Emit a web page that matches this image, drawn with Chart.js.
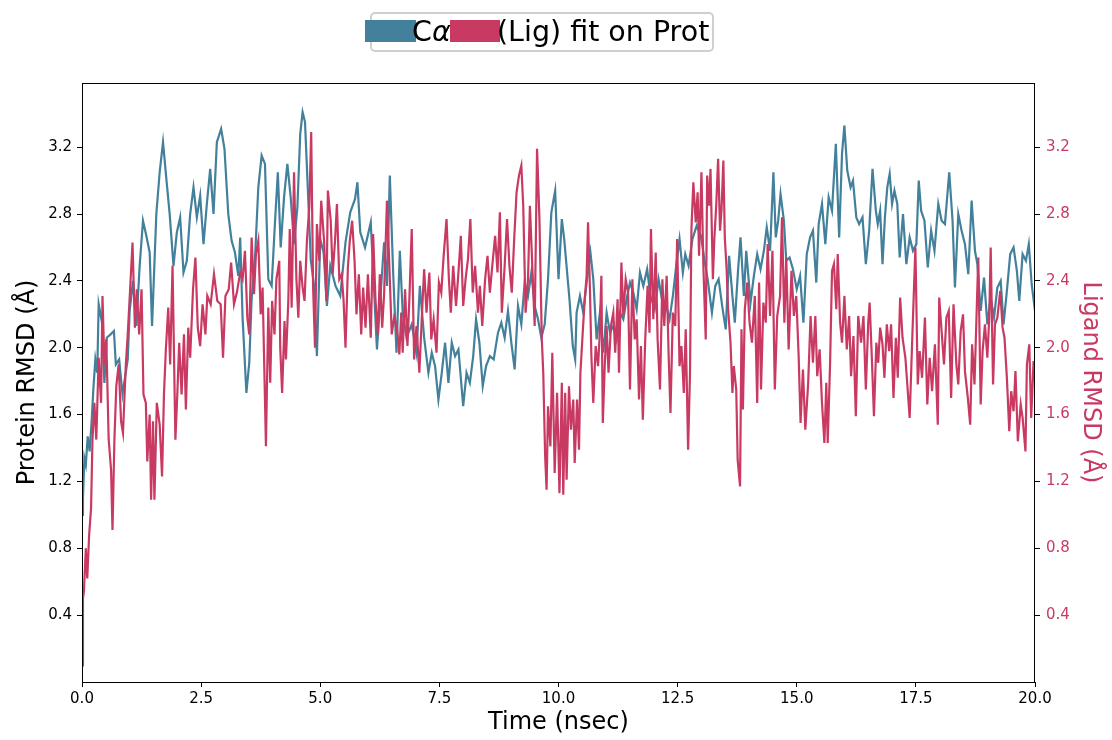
<!DOCTYPE html>
<html>
<head>
<meta charset="utf-8">
<script src="https://cdn.jsdelivr.net/npm/chart.js"></script>
<style>
  html, body { margin: 0; padding: 0; background: #fff; }
  canvas { display: block; }
</style>
</head>
<body>
<canvas id="graphique-rmsd" width="1112" height="740"></canvas>
<script>
// Temps (nsec) et RMSD de la proteine (C alpha)
const tempsProt = [
  0, 0.02, 0.05, 0.08, 0.12, 0.16, 0.2, 0.24, 0.28, 0.32,
  0.35, 0.42, 0.47, 0.52, 0.6, 0.67, 0.71, 0.78, 0.85, 0.96,
  1.0, 1.07, 1.14, 1.21, 1.28, 1.35, 1.42, 1.47, 1.56, 1.63,
  1.7, 1.78, 1.84, 1.92, 1.99, 2.06, 2.13, 2.2, 2.27, 2.34,
  2.41, 2.48, 2.55, 2.62, 2.69, 2.76, 2.83, 2.92, 2.99, 3.07,
  3.14, 3.21, 3.28, 3.32, 3.37, 3.45, 3.51, 3.56, 3.63, 3.7,
  3.77, 3.84, 3.91, 3.98, 4.05, 4.11, 4.17, 4.24, 4.31, 4.38,
  4.45, 4.52, 4.58, 4.63, 4.68, 4.75, 4.8, 4.87, 4.93, 5.0,
  5.07, 5.14, 5.21, 5.32, 5.42, 5.53, 5.63, 5.73, 5.78, 5.84,
  5.94, 6.06, 6.19, 6.26, 6.34, 6.4, 6.46, 6.53, 6.6, 6.67,
  6.73, 6.81, 6.92, 7.02, 7.09, 7.18, 7.27, 7.34, 7.41, 7.48,
  7.55, 7.62, 7.69, 7.76, 7.83, 7.9, 8.0, 8.07, 8.14, 8.21,
  8.27, 8.34, 8.41, 8.48, 8.56, 8.64, 8.73, 8.8, 8.87, 8.94,
  9.01, 9.08, 9.15, 9.22, 9.29, 9.36, 9.43, 9.5, 9.57, 9.64,
  9.71, 9.78, 9.85, 9.93, 10.0, 10.07, 10.12, 10.23, 10.3, 10.35,
  10.38, 10.45, 10.52, 10.59, 10.67, 10.73, 10.8, 10.87, 10.94, 11.01,
  11.08, 11.15, 11.22, 11.29, 11.36, 11.43, 11.5, 11.57, 11.64, 11.71,
  11.78, 11.86, 11.93, 12.02, 12.1, 12.17, 12.26, 12.33, 12.4, 12.47,
  12.54, 12.61, 12.66, 12.73, 12.81, 12.9, 12.99, 13.06, 13.13, 13.22,
  13.29, 13.36, 13.44, 13.51, 13.58, 13.65, 13.7, 13.77, 13.82, 13.89,
  13.94, 14.03, 14.1, 14.17, 14.24, 14.31, 14.37, 14.44, 14.51, 14.56,
  14.61, 14.66, 14.73, 14.78, 14.85, 14.92, 15.0, 15.07, 15.14, 15.21,
  15.28, 15.34, 15.41, 15.46, 15.53, 15.6, 15.67, 15.74, 15.82, 15.89,
  15.95, 16.0, 16.06, 16.13, 16.18, 16.25, 16.31, 16.38, 16.45, 16.52,
  16.59, 16.66, 16.7, 16.75, 16.8, 16.85, 16.9, 16.95, 17.0, 17.05,
  17.11, 17.16, 17.23, 17.3, 17.37, 17.44, 17.51, 17.56, 17.61, 17.68,
  17.75, 17.82, 17.89, 17.97, 18.04, 18.11, 18.2, 18.27, 18.32, 18.39,
  18.46, 18.53, 18.6, 18.67, 18.74, 18.79, 18.86, 18.93, 19.0, 19.07,
  19.14, 19.21, 19.28, 19.34, 19.41, 19.48, 19.55, 19.62, 19.67, 19.74,
  19.81, 19.87, 19.93, 20.0
];
const rmsdProt = [
  1.00, 1.10, 1.34, 1.30, 1.47, 1.38, 1.55, 1.76, 1.93, 1.85,
  2.26, 2.15, 1.79, 2.06, 2.08, 2.10, 1.90, 1.93, 1.72, 1.93,
  2.22, 2.40, 2.13, 2.49, 2.76, 2.67, 2.57, 2.13, 2.80, 3.05,
  3.23, 2.98, 2.80, 2.49, 2.69, 2.78, 2.45, 2.52, 2.80, 2.96,
  2.78, 2.91, 2.62, 2.86, 3.07, 2.80, 3.23, 3.31, 3.19, 2.80,
  2.64, 2.57, 2.43, 2.66, 2.18, 1.73, 1.91, 2.29, 2.53, 2.96,
  3.15, 3.10, 2.41, 2.37, 2.75, 3.05, 2.60, 2.90, 3.10, 2.90,
  2.62, 2.84, 3.28, 3.41, 3.35, 2.88, 2.53, 2.37, 1.95, 2.65,
  2.57, 2.25, 2.49, 2.37, 2.31, 2.63, 2.81, 2.89, 2.99, 2.69,
  2.60, 2.75, 1.99, 2.29, 2.63, 2.37, 3.03, 2.45, 1.97, 2.58,
  2.21, 2.06, 2.14, 1.97, 2.37, 2.06, 1.85, 1.97, 1.89, 1.69,
  1.85, 2.03, 1.79, 2.03, 1.95, 1.99, 1.65, 1.85, 1.79, 1.95,
  2.17, 2.03, 1.77, 1.89, 1.95, 1.93, 2.09, 2.15, 2.06, 2.22,
  2.03, 1.87, 2.25, 2.14, 2.39, 2.31, 2.45, 2.25, 2.17, 2.06,
  2.14, 2.41, 2.81, 2.94, 2.41, 2.77, 2.65, 2.29, 2.01, 1.93,
  2.21, 2.31, 2.21, 2.39, 2.57, 2.41, 2.05, 2.21, 1.97, 2.21,
  2.09, 2.13, 2.05, 2.21, 2.17, 2.29, 2.39, 2.33, 2.23, 2.45,
  2.37, 2.47, 2.31, 2.23, 2.41, 2.29, 2.25, 2.17, 2.31, 2.49,
  2.65, 2.45, 2.56, 2.49, 2.65, 2.73, 2.67, 2.53, 2.41, 2.21,
  2.37, 2.41, 2.24, 2.11, 2.55, 2.31, 2.15, 2.47, 2.66, 2.31,
  2.58, 2.27, 2.43, 2.56, 2.47, 2.58, 2.72, 2.58, 3.05, 2.66,
  2.76, 2.92, 2.76, 2.52, 2.54, 2.47, 2.35, 2.43, 2.15, 2.56,
  2.66, 2.70, 2.39, 2.74, 2.86, 2.62, 2.90, 2.82, 3.22, 2.66,
  3.16, 3.33, 3.06, 2.96, 3.00, 2.78, 2.74, 2.78, 2.50, 2.70,
  3.07, 2.82, 2.74, 2.82, 2.50, 2.78, 2.96, 3.04, 2.86, 2.94,
  2.86, 2.54, 2.80, 2.50, 2.66, 2.58, 2.62, 3.00, 2.82, 2.76,
  2.48, 2.70, 2.58, 2.86, 2.76, 2.74, 3.05, 2.76, 2.36, 2.80,
  2.70, 2.62, 2.44, 2.88, 2.58, 2.50, 2.22, 2.42, 2.14, 2.30,
  2.18, 2.36, 2.40, 2.14, 2.34, 2.56, 2.60, 2.46, 2.28, 2.56,
  2.52, 2.62, 2.38, 2.22
];

// Temps (nsec) et RMSD du ligand
const tempsLig = [
  0, 0.02, 0.04, 0.08, 0.11, 0.15, 0.19, 0.22, 0.26, 0.3,
  0.35, 0.4, 0.43, 0.47, 0.51, 0.56, 0.61, 0.64, 0.68, 0.72,
  0.77, 0.82, 0.86, 0.92, 0.96, 1.01, 1.06, 1.11, 1.15, 1.2,
  1.25, 1.29, 1.34, 1.37, 1.42, 1.45, 1.49, 1.52, 1.57, 1.63,
  1.68, 1.72, 1.76, 1.81, 1.85, 1.9, 1.96, 2.0, 2.04, 2.09,
  2.14, 2.18, 2.23, 2.27, 2.33, 2.38, 2.43, 2.48, 2.53, 2.59,
  2.63, 2.7, 2.77, 2.84, 2.91, 2.96, 3.01, 3.08, 3.13, 3.19,
  3.25, 3.32, 3.37, 3.42, 3.47, 3.51, 3.56, 3.61, 3.65, 3.7,
  3.75, 3.79, 3.84, 3.86, 3.91, 3.95, 3.99, 4.04, 4.08, 4.14,
  4.16, 4.2, 4.25, 4.28, 4.33, 4.36, 4.4, 4.45, 4.5, 4.54,
  4.58, 4.63, 4.67, 4.72, 4.77, 4.81, 4.85, 4.89, 4.93, 4.98,
  5.02, 5.08, 5.13, 5.16, 5.22, 5.26, 5.31, 5.35, 5.4, 5.45,
  5.49, 5.53, 5.58, 5.62, 5.67, 5.72, 5.76, 5.81, 5.86, 5.9,
  5.95, 6.0, 6.06, 6.11, 6.16, 6.21, 6.25, 6.3, 6.34, 6.4,
  6.46, 6.5, 6.55, 6.61, 6.66, 6.7, 6.73, 6.78, 6.83, 6.87,
  6.92, 6.97, 7.02, 7.08, 7.13, 7.18, 7.23, 7.29, 7.33, 7.38,
  7.44, 7.49, 7.54, 7.59, 7.65, 7.7, 7.74, 7.79, 7.85, 7.9,
  7.95, 8.0, 8.05, 8.1, 8.15, 8.2, 8.25, 8.31, 8.35, 8.4,
  8.46, 8.51, 8.56, 8.61, 8.67, 8.72, 8.77, 8.81, 8.87, 8.92,
  8.97, 9.02, 9.07, 9.12, 9.17, 9.22, 9.26, 9.31, 9.36, 9.4,
  9.45, 9.5, 9.55, 9.6, 9.65, 9.68, 9.72, 9.75, 9.78, 9.83,
  9.87, 9.92, 9.97, 10.02, 10.07, 10.1, 10.14, 10.17, 10.22, 10.26,
  10.31, 10.34, 10.39, 10.43, 10.46, 10.5, 10.55, 10.59, 10.62, 10.66,
  10.69, 10.73, 10.78, 10.83, 10.86, 10.9, 10.93, 10.97, 11.01, 11.05,
  11.1, 11.15, 11.19, 11.24, 11.27, 11.32, 11.36, 11.41, 11.46, 11.5,
  11.55, 11.6, 11.64, 11.69, 11.73, 11.77, 11.82, 11.87, 11.91, 11.94,
  11.99, 12.04, 12.08, 12.13, 12.18, 12.22, 12.27, 12.31, 12.35, 12.4,
  12.45, 12.49, 12.54, 12.58, 12.63, 12.67, 12.72, 12.76, 12.79, 12.83,
  12.88, 12.92, 12.95, 13.0, 13.04, 13.09, 13.12, 13.16, 13.19, 13.24,
  13.27, 13.31, 13.35, 13.39, 13.42, 13.46, 13.49, 13.53, 13.56, 13.61,
  13.65, 13.68, 13.73, 13.76, 13.81, 13.84, 13.87, 13.91, 13.96, 14.01,
  14.06, 14.12, 14.17, 14.21, 14.25, 14.3, 14.35, 14.39, 14.44, 14.49,
  14.54, 14.59, 14.65, 14.69, 14.74, 14.78, 14.83, 14.89, 14.94, 14.99,
  15.04, 15.08, 15.13, 15.18, 15.24, 15.29, 15.34, 15.39, 15.43, 15.48,
  15.53, 15.58, 15.62, 15.65, 15.7, 15.74, 15.78, 15.83, 15.86, 15.91,
  15.95, 16.0, 16.05, 16.1, 16.14, 16.19, 16.24, 16.29, 16.35, 16.4,
  16.45, 16.5, 16.53, 16.58, 16.62, 16.67, 16.71, 16.75, 16.8, 16.84,
  16.89, 16.94, 16.98, 17.03, 17.08, 17.12, 17.17, 17.22, 17.28, 17.32,
  17.37, 17.42, 17.49, 17.54, 17.58, 17.63, 17.69, 17.74, 17.79, 17.84,
  17.9, 17.96, 17.99, 18.04, 18.09, 18.14, 18.19, 18.24, 18.29, 18.35,
  18.39, 18.44, 18.49, 18.53, 18.59, 18.64, 18.68, 18.73, 18.78, 18.81,
  18.86, 18.9, 18.95, 19.0, 19.04, 19.07, 19.12, 19.16, 19.21, 19.27,
  19.32, 19.36, 19.41, 19.46, 19.5, 19.55, 19.59, 19.64, 19.7, 19.74,
  19.8, 19.83, 19.88, 19.92, 19.97, 20.0
];
const rmsdLig = [
  0.10, 0.50, 0.54, 0.80, 0.62, 0.88, 1.04, 1.45, 1.67, 1.45,
  1.94, 1.67, 2.31, 1.90, 2.05, 1.45, 1.27, 0.91, 1.45, 1.77,
  1.90, 1.56, 1.49, 1.90, 2.08, 2.35, 2.63, 2.12, 2.35, 2.08,
  2.35, 1.72, 1.67, 1.32, 1.60, 1.09, 1.56, 1.09, 1.67, 1.54,
  1.23, 1.72, 1.99, 2.24, 1.90, 2.49, 1.45, 1.72, 2.03, 1.72,
  2.08, 1.63, 2.12, 1.94, 2.35, 2.54, 2.12, 2.01, 2.26, 2.08,
  2.31, 2.26, 2.44, 2.28, 2.26, 1.94, 2.31, 2.35, 2.51, 2.26,
  2.33, 2.45, 2.41, 2.58, 2.18, 2.08, 2.66, 2.32, 2.56, 2.64,
  2.20, 2.36, 1.69, 1.41, 2.24, 1.79, 2.28, 2.08, 2.41, 2.52,
  2.00, 1.73, 2.16, 1.93, 2.28, 2.71, 2.24, 3.05, 2.41, 2.18,
  2.52, 2.36, 2.28, 2.64, 2.84, 3.29, 2.36, 2.00, 2.74, 2.52,
  2.88, 2.64, 2.28, 2.94, 2.76, 2.44, 2.64, 2.86, 2.41, 2.44,
  2.28, 2.00, 2.48, 2.64, 2.76, 2.52, 2.20, 2.44, 2.08, 2.36,
  2.12, 2.44, 2.06, 2.68, 2.28, 2.08, 2.44, 2.12, 2.32, 2.88,
  2.41, 2.08, 2.18, 2.12, 1.96, 2.21, 1.97, 2.35, 2.01, 2.29,
  2.71, 1.93, 2.13, 1.85, 2.17, 2.47, 2.21, 2.45, 2.05, 2.17,
  1.97, 2.39, 2.33, 2.55, 2.77, 2.41, 2.21, 2.49, 2.25, 2.45,
  2.67, 2.25, 2.41, 2.53, 2.77, 2.33, 2.49, 2.21, 2.37, 2.13,
  2.41, 2.55, 2.33, 2.49, 2.67, 2.45, 2.81, 2.21, 2.49, 2.77,
  2.49, 2.33, 2.65, 2.93, 3.03, 3.09, 2.85, 2.21, 2.41, 2.85,
  2.49, 2.13, 3.19, 2.77, 2.05, 1.85, 1.35, 1.15, 1.65, 1.41,
  1.97, 1.25, 1.73, 1.13, 1.79, 1.12, 1.73, 1.21, 1.77, 1.51,
  1.69, 1.31, 1.69, 1.39, 1.85, 2.05, 2.29, 2.43, 2.75, 2.35,
  1.95, 1.67, 2.01, 1.89, 2.05, 2.43, 1.55, 1.89, 2.13, 1.85,
  2.13, 2.21, 1.97, 2.29, 1.85, 2.51, 2.19, 2.41, 2.33, 1.75,
  2.41, 2.05, 2.17, 1.69, 2.01, 1.57, 2.05, 2.37, 2.09, 2.71,
  2.17, 2.57, 2.05, 1.75, 2.41, 2.13, 2.43, 1.97, 1.61, 2.21,
  2.13, 2.65, 1.89, 2.01, 1.73, 2.11, 1.39, 1.85, 2.71, 2.99,
  2.75, 2.93, 2.55, 3.05, 2.49, 2.05, 3.03, 2.85, 3.07, 2.41,
  2.65, 2.85, 3.13, 2.70, 2.82, 3.12, 2.66, 2.46, 2.23, 2.03,
  1.73, 1.89, 1.75, 1.33, 1.17, 2.11, 1.63, 2.23, 2.39, 2.15,
  2.03, 2.31, 1.67, 2.39, 1.75, 2.27, 2.15, 2.62, 2.19, 2.58,
  1.75, 2.19, 2.31, 2.78, 2.15, 2.54, 1.99, 2.46, 2.19, 2.31,
  1.95, 1.55, 1.87, 1.51, 1.79, 2.19, 1.91, 2.19, 1.83, 1.99,
  1.67, 1.43, 1.79, 1.43, 1.91, 2.46, 2.50, 2.23, 2.56, 2.15,
  2.03, 2.31, 1.99, 2.19, 1.83, 2.07, 1.59, 2.19, 2.03, 2.19,
  1.75, 2.15, 2.27, 1.91, 1.59, 2.03, 1.91, 2.12, 2.02, 1.82,
  2.14, 1.98, 2.14, 1.70, 2.06, 1.82, 2.30, 2.06, 1.94, 1.78,
  1.58, 2.02, 2.60, 1.78, 1.98, 1.82, 2.18, 1.66, 1.94, 1.74,
  2.02, 1.54, 2.30, 2.10, 1.90, 2.18, 2.22, 1.70, 2.26, 1.90,
  1.78, 2.10, 2.20, 1.86, 1.70, 1.54, 2.02, 1.78, 2.26, 2.54,
  1.66, 1.98, 2.14, 1.94, 2.18, 2.60, 1.78, 2.14, 2.18, 2.34,
  2.12, 2.06, 1.82, 1.50, 1.74, 1.62, 1.86, 1.44, 1.66, 1.58,
  1.38, 1.90, 2.02, 1.58, 1.92, 1.80
];

// Graduations des axes et noms des series
const ticksX = [0, 2.5, 5, 7.5, 10, 12.5, 15, 17.5, 20];
const ticksY = [0.4, 0.8, 1.2, 1.6, 2.0, 2.4, 2.8, 3.2];
const nomsSeries = ["Cα", "(Lig) fit on Prot"];

// Couleurs et police
const couleurProt = "rgb(67, 128, 155)";
const couleurLig = "rgb(200, 58, 98)";
const police = "'DejaVu Sans', sans-serif";

// Points {x, y} construits depuis les tableaux
const pointsProt = tempsProt.map((t, i) => ({ x: t, y: rmsdProt[i] }));
const pointsLig = tempsLig.map((t, i) => ({ x: t, y: rmsdLig[i] }));

// Cadre noir autour de la zone du graphique
const pluginCadre = {
  id: "cadre",
  afterDraw(chart) {
    const { ctx, chartArea } = chart;
    ctx.save();
    ctx.strokeStyle = "#000";
    ctx.lineWidth = 1;
    ctx.strokeRect(chartArea.left + 0.5, chartArea.top + 0.5,
      chartArea.right - chartArea.left - 1, chartArea.bottom - chartArea.top);
    ctx.restore();
  }
};

// Legende en haut, dessinee a la main (facon matplotlib)
const pluginLegende = {
  id: "legende",
  afterDraw(chart) {
    const ctx = chart.ctx;
    ctx.save();
    // Cadre arrondi gris
    ctx.fillStyle = "#fff";
    ctx.strokeStyle = "#cfcfcf";
    ctx.lineWidth = 2;
    ctx.beginPath();
    ctx.roundRect(371, 13, 342, 38, 4);
    ctx.fill();
    ctx.stroke();
    // Carres de couleur
    ctx.fillStyle = couleurProt;
    ctx.fillRect(365, 20, 51, 22);
    ctx.fillStyle = couleurLig;
    ctx.fillRect(450, 20, 50, 22);
    // Textes
    ctx.fillStyle = "#000";
    ctx.textBaseline = "alphabetic";
    ctx.font = "28.5px " + police;
    ctx.fillText(nomsSeries[0].charAt(0), 412, 41);
    const largeurC = ctx.measureText(nomsSeries[0].charAt(0)).width;
    ctx.font = "italic 28.5px " + police;
    ctx.fillText(nomsSeries[0].slice(1), 412 + largeurC, 41);
    ctx.font = "28.5px " + police;
    ctx.fillText(nomsSeries[1], 497, 41);
    ctx.restore();
  }
};

// Options communes des graduations
const grilleTicks = {
  display: true,
  drawOnChartArea: false,
  drawTicks: true,
  tickLength: 5,
  color: "#000",
  lineWidth: 1
};

const config = {
  type: "line",
  data: {
    datasets: [
      {
        label: nomsSeries[0],
        data: pointsProt,
        borderColor: couleurProt,
        borderWidth: 2.2,
        pointRadius: 0,
        tension: 0,
        yAxisID: "y",
        order: 1
      },
      {
        label: nomsSeries[1],
        data: pointsLig,
        borderColor: couleurLig,
        borderWidth: 2.2,
        pointRadius: 0,
        tension: 0,
        yAxisID: "y2",
        order: 0
      }
    ]
  },
  options: {
    responsive: false,
    animation: false,
    devicePixelRatio: 1,
    layout: { padding: { top: 83, left: 0, right: 0, bottom: 0 } },
    plugins: {
      legend: { display: false },
      tooltip: { enabled: false }
    },
    scales: {
      x: {
        type: "linear",
        min: 0,
        max: 20,
        afterBuildTicks: s => { s.ticks = ticksX.map(v => ({ value: v })); },
        afterFit: s => { s.height = 58; },
        ticks: {
          callback: v => v.toFixed(1),
          color: "#000",
          font: { family: police, size: 15 },
          padding: 3,
          maxRotation: 0,
          autoSkip: false
        },
        grid: grilleTicks,
        border: { display: false },
        title: {
          display: true,
          text: "Time (nsec)",
          color: "#000",
          font: { family: police, size: 24 },
          padding: { top: 0, bottom: 3 }
        }
      },
      y: {
        type: "linear",
        position: "left",
        min: 0,
        max: 3.584,
        afterBuildTicks: s => { s.ticks = ticksY.map(v => ({ value: v })); },
        afterFit: s => { s.width = 82; },
        ticks: {
          callback: v => v.toFixed(1),
          color: "#000",
          font: { family: police, size: 15 },
          padding: 5
        },
        grid: grilleTicks,
        border: { display: false },
        title: {
          display: true,
          text: "Protein RMSD (Å)",
          color: "#000",
          font: { family: police, size: 24 },
          padding: { top: 13, bottom: 0 }
        }
      },
      y2: {
        type: "linear",
        position: "right",
        min: 0,
        max: 3.584,
        afterBuildTicks: s => { s.ticks = ticksY.map(v => ({ value: v })); },
        afterFit: s => { s.width = 77; },
        ticks: {
          callback: v => v.toFixed(1),
          color: couleurLig,
          font: { family: police, size: 15 },
          padding: 6
        },
        grid: grilleTicks,
        border: { display: false },
        title: {
          display: true,
          text: "Ligand RMSD (Å)",
          color: couleurLig,
          font: { family: police, size: 24 },
          padding: { top: 7, bottom: 0 }
        }
      }
    }
  },
  plugins: [pluginCadre, pluginLegende]
};

// Rendu dans le canvas
new Chart(document.querySelector("#graphique-rmsd"), config);
</script>
</body>
</html>
